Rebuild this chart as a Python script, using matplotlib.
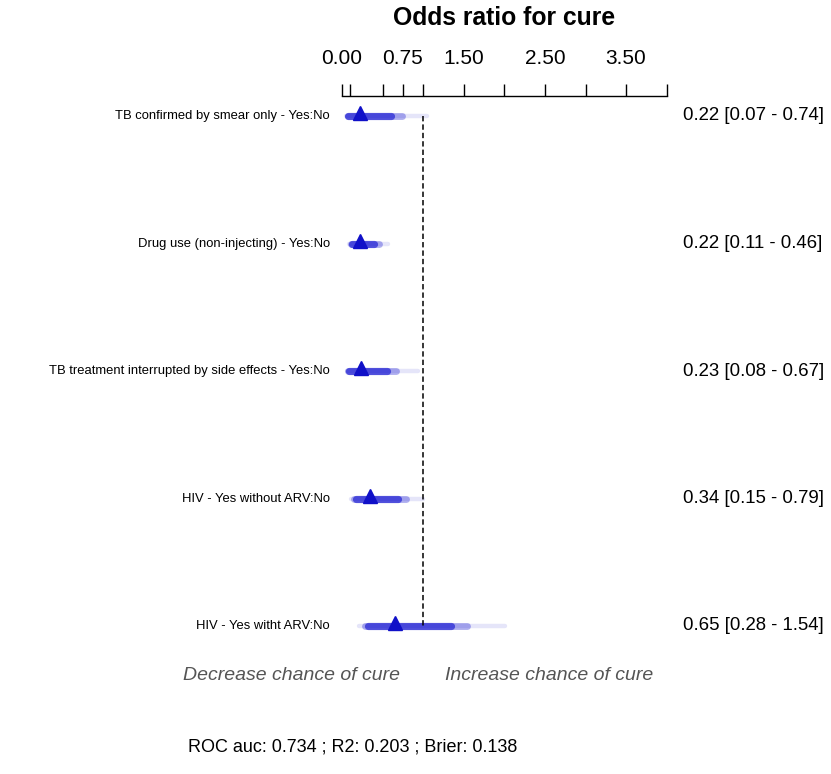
import matplotlib
matplotlib.use('Agg')
import matplotlib.pyplot as plt

plt.rcParams['font.family'] = ['Liberation Sans', 'DejaVu Sans']

# factors, estimates and confidence limits
factors = ['TB confirmed by smear only - Yes:No',
           'Drug use (non-injecting) - Yes:No',
           'TB treatment interrupted by side effects - Yes:No',
           'HIV - Yes without ARV:No',
           'HIV - Yes witht ARV:No']
odds = [0.22, 0.22, 0.23, 0.34, 0.65]
lo95 = [0.07, 0.11, 0.08, 0.15, 0.28]
hi95 = [0.74, 0.46, 0.67, 0.79, 1.54]
lo90 = [0.08, 0.12, 0.09, 0.17, 0.32]
hi90 = [0.60, 0.40, 0.56, 0.69, 1.34]
lo99 = [0.05, 0.09, 0.06, 0.11, 0.21]
hi99 = [1.05, 0.57, 0.94, 1.00, 2.01]

tick_pos = [0, 0.1, 0.5, 0.75, 1, 1.5, 2, 2.5, 3, 3.5, 4]
tick_lab = ['0.00', '', '', '0.75', '', '1.50', '', '2.50', '', '3.50', '']

W, H = 831, 774
fig = plt.figure(figsize=(W / 100, H / 100), dpi=100)

# axes placed in pixel units
left, right, top, bottom = 342, 666.7, 96, 640
ax = fig.add_axes([left / W, 1 - bottom / H, (right - left) / W, (bottom - top) / H])

rows = list(range(1, len(factors) + 1))
ax.set_xlim(0, 4)
ax.set_ylim(5 + 14 / 127.5, 1 - 20 / 127.5)

blue = '#0000CD'
for i, y in enumerate(rows):
    ax.plot([lo99[i], hi99[i]], [y, y], color=blue, alpha=0.1, lw=3.2, solid_capstyle='round')
    ax.plot([lo95[i], hi95[i]], [y, y], color=blue, alpha=0.3, lw=5.0, solid_capstyle='round')
    ax.plot([lo90[i], hi90[i]], [y, y], color=blue, alpha=0.55, lw=5.2, solid_capstyle='round')
    ax.plot(odds[i], y - 0.02, marker='^', color='#1010C8', markersize=10, zorder=5)
    ax.text(-0.037, y, factors[i], transform=ax.get_yaxis_transform(),
            ha='right', va='center', fontsize=9.4)
    ax.text(1.050, y, '%.2f [%.2f - %.2f]' % (odds[i], lo95[i], hi95[i]),
            transform=ax.get_yaxis_transform(), ha='left', va='center', fontsize=13.4)

ax.vlines(1, rows[0], rows[-1], colors='black', linestyles=(0, (3.5, 2)), lw=1.1)

for s in ['left', 'right', 'bottom']:
    ax.spines[s].set_visible(False)
ax.spines['top'].set_linewidth(1)
ax.set_yticks([])
ax.xaxis.tick_top()
ax.set_xticks(tick_pos)
ax.set_xticklabels(tick_lab, fontsize=15)
ax.tick_params(axis='x', direction='out', length=9, width=1, pad=11)

fig.text(504 / W, 1 - 18 / H, 'Odds ratio for cure', ha='center', va='center',
         fontsize=17.8, fontweight='bold')
fig.text(400 / W, 1 - 675 / H, 'Decrease chance of cure', ha='right', va='center',
         fontsize=14, style='italic', color='#555555')
fig.text(445 / W, 1 - 675 / H, 'Increase chance of cure', ha='left', va='center',
         fontsize=14, style='italic', color='#555555')
fig.text(353 / W, 1 - 747 / H, 'ROC auc: 0.734 ; R2: 0.203 ; Brier: 0.138',
         ha='center', va='center', fontsize=13)

fig.savefig('out.png', dpi=100)
